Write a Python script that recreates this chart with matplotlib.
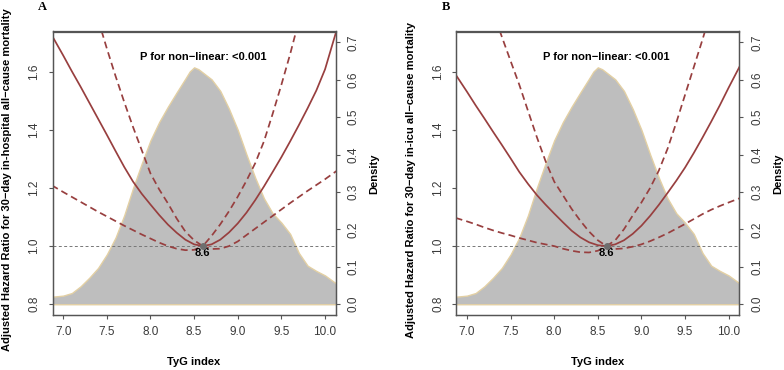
import matplotlib
matplotlib.use('Agg')
import matplotlib.pyplot as plt

# ── Data ──────────────────────────────────────────────────────────────────────
TYG = [6.87, 7.0, 7.1, 7.2, 7.3, 7.4, 7.5, 7.6, 7.7, 7.8, 7.9,
       8.0, 8.1, 8.2, 8.3, 8.4, 8.5, 8.6, 8.7, 8.8, 8.9,
       9.0, 9.1, 9.2, 9.3, 9.4, 9.5, 9.6, 9.7, 9.8, 9.9, 10.0, 10.13]

# panel A: 30-day in-hospital mortality
HR_A    = [1.725, 1.656, 1.601, 1.548, 1.493, 1.438, 1.383, 1.327, 1.272, 1.222, 1.18,
           1.143, 1.107, 1.074, 1.046, 1.022, 1.006, 1.0, 1.006, 1.022, 1.047,
           1.078, 1.115, 1.158, 1.205, 1.255, 1.306, 1.36, 1.416, 1.474, 1.535, 1.608, 1.74]
UPPER_A = [2.45, 2.3, 2.15, 2.0, 1.885, 1.78, 1.68, 1.585, 1.495, 1.41, 1.33,
           1.25, 1.195, 1.147, 1.095, 1.05, 1.02, 1.0, 1.035, 1.075, 1.12,
           1.17, 1.225, 1.285, 1.36, 1.455, 1.555, 1.66, 1.775, 1.9, 2.04, 2.19, 2.4]
LOWER_A = [1.209, 1.186, 1.169, 1.152, 1.135, 1.118, 1.102, 1.086, 1.07, 1.055, 1.04,
           1.026, 1.012, 1.0, 0.991, 0.986, 0.987, 1.0, 0.99, 0.991, 1.0,
           1.016, 1.038, 1.06, 1.082, 1.104, 1.126, 1.148, 1.169, 1.19, 1.21, 1.23, 1.258]

# panel B: 30-day in-icu mortality
HR_B    = [1.59, 1.531, 1.484, 1.439, 1.393, 1.348, 1.302, 1.255, 1.214, 1.176, 1.143,
           1.112, 1.082, 1.053, 1.03, 1.013, 1.003, 1.0, 1.006, 1.02, 1.042,
           1.07, 1.104, 1.142, 1.183, 1.225, 1.27, 1.32, 1.373, 1.428, 1.485, 1.545, 1.62]
UPPER_B = [2.18, 2.07, 1.98, 1.89, 1.805, 1.72, 1.637, 1.555, 1.465, 1.376, 1.293,
           1.222, 1.175, 1.128, 1.087, 1.05, 1.02, 1.0, 1.02, 1.058, 1.105,
           1.15, 1.2, 1.26, 1.335, 1.425, 1.52, 1.615, 1.71, 1.81, 1.915, 2.03, 2.2]
LOWER_B = [1.097, 1.085, 1.075, 1.064, 1.054, 1.045, 1.037, 1.028, 1.02, 1.012, 1.006,
           1.0, 0.991, 0.984, 0.979, 0.978, 0.984, 1.0, 0.99, 0.992, 0.998,
           1.006, 1.017, 1.03, 1.044, 1.06, 1.076, 1.093, 1.11, 1.125, 1.138, 1.15, 1.165]

# TyG distribution (same cohort in both panels)
DENS_X = [6.87, 7.0, 7.1, 7.2, 7.3, 7.4, 7.5, 7.6, 7.7, 7.8, 7.9, 8.0, 8.1, 8.2, 8.3,
          8.4, 8.45, 8.5, 8.55, 8.6, 8.7, 8.8, 8.9, 9.0, 9.1, 9.2, 9.3, 9.4, 9.5, 9.6,
          9.7, 9.8, 9.9, 10.0, 10.13]
DENS_Y = [0.020, 0.023, 0.030, 0.048, 0.071, 0.097, 0.133, 0.178, 0.238, 0.310, 0.376,
          0.438, 0.487, 0.528, 0.566, 0.603, 0.622, 0.633, 0.628, 0.619, 0.601, 0.570,
          0.522, 0.466, 0.400, 0.338, 0.283, 0.243, 0.218, 0.188, 0.137, 0.103, 0.089,
          0.077, 0.055]

REF_X = 8.6
X_TICKS = [7.0, 7.5, 8.0, 8.5, 9.0, 9.5, 10.0]
HR_TICKS = [0.8, 1.0, 1.2, 1.4, 1.6]
DENS_TICKS = [0.0, 0.1, 0.2, 0.3, 0.4, 0.5, 0.6, 0.7]

YLABELS = [
    'Adjusted Hazard Ratio for 30\u2212day in-hospital all\u2212cause mortality',
    'Adjusted Hazard Ratio for 30\u2212day in-icu all\u2212cause mortality',
]
P_TEXT = 'P for non\u2212linear: <0.001'

# ── Style ─────────────────────────────────────────────────────────────────────
CURVE  = '#983F3F'
FILL   = '#BEBEBE'
EDGE   = '#E3D0A4'
AXCOL  = '#555555'
FONT   = 'Liberation Sans'
DASH   = (0, (4, 2.4))

plt.rcParams['font.family'] = FONT
plt.rcParams['font.size'] = 8

XLIM = (6.878, 10.122)
YLIM = (0.763, 1.738)
# density axis shares pixel scale: 0.0 sits at HR 0.8
K = 1.287
DLIM = ((YLIM[0] - 0.8) / K, (YLIM[1] - 0.8) / K)


def draw_panel(fig, rect, hr, up, lo, ylabel, letter, ylab_x, letter_x):
    ax = fig.add_axes(rect)
    ax2 = ax.twinx()
    ax.set_zorder(ax2.get_zorder() + 1)
    ax.patch.set_visible(False)

    # density
    ax2.fill_between(DENS_X, 0, DENS_Y, facecolor=FILL, edgecolor=EDGE, linewidth=1.0)
    ax2.set_ylim(*DLIM)
    ax2.set_yticks(DENS_TICKS)
    ax2.set_yticklabels([f'{t:.1f}' for t in DENS_TICKS])

    # HR curves
    ax.axhline(1.0, color='#777777', linestyle=(0, (3, 2.5)), linewidth=0.7)
    ax.plot(TYG, hr, color=CURVE, linewidth=1.25)
    ax.plot(TYG, up, color=CURVE, linewidth=1.25, linestyle=DASH)
    ax.plot(TYG, lo, color=CURVE, linewidth=1.25, linestyle=DASH)
    ax.plot([REF_X], [1.0], 'o', color='#6E6E6E', markersize=4, zorder=5)
    ax.text(REF_X, 0.977, '8.6', ha='center', va='center', fontweight='bold', fontsize=8)
    ax.text(8.6, 1.649, P_TEXT, ha='center', va='center', fontweight='bold', fontsize=8)

    ax.set_xlim(*XLIM)
    ax.set_ylim(*YLIM)
    ax.set_xticks(X_TICKS)
    ax.set_xticklabels([f'{t:.1f}' for t in X_TICKS])
    ax.set_yticks(HR_TICKS)
    ax.set_yticklabels([f'{t:.1f}' for t in HR_TICKS])

    for a in (ax, ax2):
        for s in a.spines.values():
            s.set_color(AXCOL)
            s.set_linewidth(0.9)
        a.tick_params(colors=AXCOL, labelcolor='#3A3A3A', length=3.2, width=0.8, labelsize=8.5)
    ax.tick_params(axis='x', pad=4.5)
    ax.tick_params(axis='y', pad=5.5)
    ax2.tick_params(axis='y', pad=5.5)
    for t in ax.get_yticklabels():
        t.set_rotation(90)
        t.set_va('center')
    for t in ax2.get_yticklabels():
        t.set_rotation(90)
        t.set_va('center')

    # labels
    x0, y0, w, h = rect
    fig.text(x0 + w / 2, 1 - 362 / 370, 'TyG index', ha='center', va='center',
             fontweight='bold', fontsize=8)
    fig.text(ylab_x, 1 - 180 / 370, ylabel, rotation=90, ha='center', va='center',
             fontweight='bold', fontsize=8)
    fig.text(x0 + w + 38.5 / 784, y0 + h / 2, 'Density', rotation=90, ha='center',
             va='center', fontweight='bold', fontsize=8)
    fig.text(letter_x, 1 - 7 / 370, letter, ha='center', va='center',
             fontweight='bold', fontsize=9, family='Liberation Serif')
    return ax


fig = plt.figure(figsize=(7.84, 3.70), dpi=100, facecolor='white')
bottom = 1 - 315 / 370
height = (315 - 31.5) / 370
draw_panel(fig, [52.5 / 784, bottom, 283.2 / 784, height], HR_A, UPPER_A, LOWER_A,
           YLABELS[0], 'A', 7.3 / 784, 42 / 784)
draw_panel(fig, [456.3 / 784, bottom, 283.0 / 784, height], HR_B, UPPER_B, LOWER_B,
           YLABELS[1], 'B', 411 / 784, 446.5 / 784)

fig.savefig('out.png', dpi=100, facecolor='white')
